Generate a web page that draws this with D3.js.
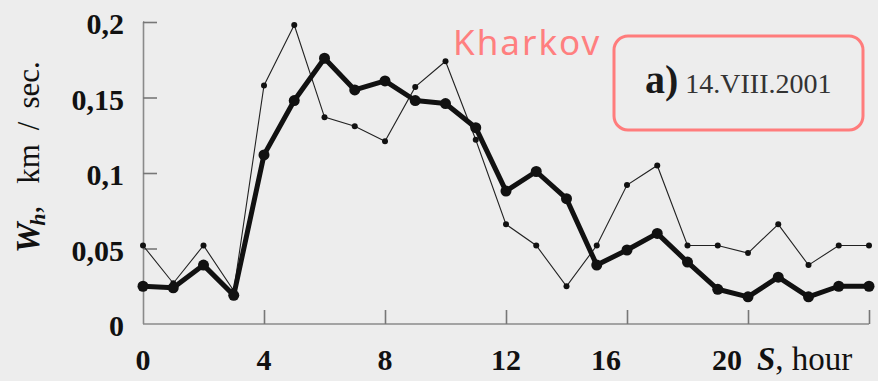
<!DOCTYPE html>
<html><head><meta charset="utf-8">
<script src="https://cdn.jsdelivr.net/npm/d3@7"></script>
<style>html,body{margin:0;padding:0;background:#ededed;}svg{display:block;}</style>
</head><body>
<svg id="c" width="878" height="381"></svg>
<script>
const hours = d3.range(0, 25);
const thickValues = [0.025,0.024,0.039,0.019,0.112,0.148,0.176,0.155,0.161,0.148,0.146,0.130,0.088,0.101,0.083,0.039,0.049,0.060,0.041,0.023,0.018,0.031,0.018,0.025,0.025];
const thinValues  = [0.052,0.027,0.052,0.022,0.158,0.198,0.137,0.131,0.121,0.157,0.174,0.122,0.066,0.052,0.025,0.052,0.092,0.105,0.052,0.052,0.047,0.066,0.039,0.052,0.052];
const yTicks = [0, 0.05, 0.1, 0.15, 0.2];
const yTickLabels = ["0", "0,05", "0,1", "0,15", "0,2"];
const xTicks = [0, 4, 8, 12, 16, 20, 24];
const xTickLabels = ["0", "4", "8", "12", "16", "20", ""];
const stationLabel = "Kharkov";
const panelLabel = "a)";
const dateLabel = "14.VIII.2001";

const svg = d3.select("#c");
const x = d3.scaleLinear().domain([0, 24]).range([143, 869]);
const y = d3.scaleLinear().domain([0, 0.2]).range([324, 22]);
const serif = "'Liberation Serif','Times New Roman',serif";
const axisColor = "#8a8a8a";

// axes
const gx = svg.append("g").attr("transform", `translate(0,${y(0)})`)
  .call(d3.axisTop(x).tickValues(xTicks.slice(1)).tickSize(14).tickFormat(""));
const gy = svg.append("g").attr("transform", `translate(${x(0)},0)`)
  .call(d3.axisRight(y).tickValues(yTicks.slice(1)).tickSize(14).tickFormat(""));
[gx, gy].forEach(g => {
  g.select(".domain").attr("stroke", axisColor).attr("stroke-width", 1.6);
  g.selectAll(".tick line").attr("stroke", "#777").attr("stroke-width", 1.6);
});
gy.select(".domain").attr("d", `M0,${y(0.2)}H0.5V${y(0)}`);
gx.select(".domain").attr("d", `M${x(0)},0H${x(24)}`);

// tick labels
svg.append("g").selectAll("text").data(yTicks).join("text")
  .attr("x", 124).attr("y", d => y(d) + 12)
  .attr("text-anchor", "end").attr("font-family", serif).attr("font-weight", "bold")
  .attr("font-size", 30).attr("fill", "#111")
  .text((d, i) => yTickLabels[i]);
svg.append("g").selectAll("text").data(xTicks).join("text")
  .attr("x", d => x(d) - (d >= 16 ? 21 : 0)).attr("y", 370)
  .attr("text-anchor", "middle").attr("font-family", serif).attr("font-weight", "bold")
  .attr("font-size", 30).attr("fill", "#111")
  .text((d, i) => xTickLabels[i]);

// x axis title
const xt = svg.append("text").attr("x", 757).attr("y", 370).attr("font-family", serif)
  .attr("font-size", 33).attr("fill", "#111");
xt.append("tspan").attr("font-style", "italic").attr("font-weight", "bold").text("S");
xt.append("tspan").text(", hour");

// y axis title
const yt = svg.append("text").attr("transform", "translate(39,253) rotate(-90)")
  .attr("text-anchor", "start").attr("font-family", serif).attr("font-size", 31).attr("fill", "#111");
yt.append("tspan").attr("font-style", "italic").attr("font-weight", "bold").attr("font-size", 34).text("W");
yt.append("tspan").attr("font-style", "italic").attr("font-weight", "bold").attr("font-size", 22).attr("dx", -3).attr("dy", 6).text("h");
yt.append("tspan").attr("dy", -6).text(",");
yt.append("tspan").attr("dx", 22).text("km");
yt.append("tspan").attr("dx", 14).text("/");
yt.append("tspan").attr("dx", 13).text("sec.");

// lines
const line = d3.line().x((d, i) => x(hours[i])).y(d => y(d));
svg.append("path").datum(thinValues).attr("d", line).attr("fill", "none")
  .attr("stroke", "#222").attr("stroke-width", 1.1);
svg.append("g").selectAll("circle").data(thinValues).join("circle")
  .attr("cx", (d, i) => x(hours[i])).attr("cy", d => y(d)).attr("r", 3).attr("fill", "#111");
svg.append("path").datum(thickValues).attr("d", line).attr("fill", "none")
  .attr("stroke", "#111").attr("stroke-width", 5).attr("stroke-linejoin", "round");
svg.append("g").selectAll("circle").data(thickValues).join("circle")
  .attr("cx", (d, i) => x(hours[i])).attr("cy", d => y(d)).attr("r", 5.5).attr("fill", "#111");

// annotations
svg.append("text").attr("x", 453).attr("y", 55).attr("font-family", "'Comic Sans MS','Noto Sans',sans-serif")
  .attr("font-size", 35).attr("fill", "#ff7f7f").attr("letter-spacing", 2).text(stationLabel);
svg.append("rect").attr("x", 614).attr("y", 36).attr("width", 249).attr("height", 94).attr("rx", 14)
  .attr("fill", "none").attr("stroke", "#ff7c7c").attr("stroke-width", 3);
const bt = svg.append("text").attr("x", 645).attr("y", 93).attr("font-family", serif).attr("fill", "#1a1a1a");
bt.append("tspan").attr("font-weight", "bold").attr("font-size", 40).text(panelLabel);
bt.append("tspan").attr("font-size", 28).attr("dx", 7).attr("fill", "#333").text(dateLabel);
</script>
</body></html>
